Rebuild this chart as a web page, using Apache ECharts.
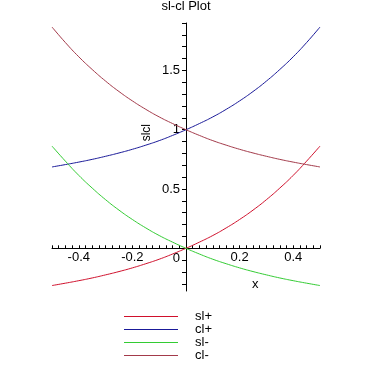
<!DOCTYPE html>
<html><head><meta charset="utf-8">
<script src="https://cdn.jsdelivr.net/npm/echarts@6/dist/echarts.min.js"></script>
<style>html,body{margin:0;padding:0;background:#fff}#c{width:372px;height:372px}</style>
</head><body><div id="c"></div>
<script>
const xs = [-0.5,-0.45,-0.4,-0.35,-0.3,-0.25,-0.2,-0.15,-0.1,-0.05,0,0.05,0.1,0.15,0.2,0.25,0.3,0.35,0.4,0.45,0.5];
const slPlus  = [-0.314,-0.294,-0.273,-0.25,-0.224,-0.196,-0.165,-0.13,-0.092,-0.048,0,0.052,0.108,0.172,0.243,0.322,0.41,0.508,0.615,0.735,0.862];
const clPlus  = [0.686,0.706,0.727,0.75,0.776,0.804,0.835,0.87,0.908,0.952,1.0,1.052,1.108,1.172,1.243,1.322,1.41,1.508,1.615,1.735,1.866];
const slMinus = [0.862,0.735,0.615,0.508,0.41,0.322,0.243,0.172,0.108,0.052,0,-0.048,-0.092,-0.13,-0.165,-0.196,-0.224,-0.25,-0.273,-0.294,-0.314];
const clMinus = [1.866,1.735,1.615,1.508,1.41,1.322,1.243,1.172,1.108,1.052,1.0,0.952,0.908,0.87,0.835,0.804,0.776,0.75,0.727,0.706,0.686];
const names = ['sl+','cl+','sl-','cl-'];
const colors = ['#d0102c','#1a1a99','#33cc33','#a33a4a'];
const xLabelVals = [-0.4,-0.2,0.2,0.4];
const yLabelVals = [0,0.5,1,1.5];
const xTickVals = [];
for (let i=-20;i<=20;i++) xTickVals.push(+(i*0.025).toFixed(3));
const yTickVals = [];
for (let i=-3;i<=19;i++) yTickVals.push(+(i*0.1).toFixed(2));

const font = 'Liberation Sans';
const allData = [slPlus, clPlus, slMinus, clMinus];
const XMIN=-0.5, XMAX=0.5, YMIN=-0.36, YMAX=1.9;
const G = {left:52,right:52,top:23,bottom:81};
const W=372,H=372;
const zeroX = G.left + (0-XMIN)/(XMAX-XMIN)*(W-G.left-G.right);
const zeroY = G.top + (YMAX-0)/(YMAX-YMIN)*(H-G.top-G.bottom);
const lbl = {fontFamily:font,fontSize:13,color:'#000'};
const chart = echarts.init(document.getElementById('c'), null, {renderer:'canvas'});
chart.setOption({
  animation:false,
  backgroundColor:'#fff',
  title:{text:'sl-cl Plot',left:'center',top:0,padding:0,
    textStyle:{fontFamily:font,fontSize:13,fontWeight:'normal',color:'#000'}},
  grid:G,
  legend:{orient:'vertical',left:124,top:310,padding:0,itemGap:0,itemWidth:54,itemHeight:1,
    icon:'rect',data:names,
    textStyle:{fontFamily:font,fontSize:13,color:'#000',lineHeight:12.7,padding:[0,0,0,12]}},
  xAxis:[{type:'value',min:XMIN,max:XMAX,
    name:'x',nameLocation:'end',nameGap:-68,
    nameTextStyle:Object.assign({verticalAlign:'top',padding:[30,0,0,0]},lbl),
    axisLine:{onZero:true,lineStyle:{color:'#000',width:1}},
    axisTick:{show:true,inside:true,length:3,customValues:xTickVals,lineStyle:{color:'#000'}},
    axisLabel:{show:false},
    splitLine:{show:false}},
   {type:'value',min:XMIN,max:XMAX,position:'bottom',offset:-(H-G.bottom-zeroY),
    axisLine:{show:false,onZero:false},axisTick:{show:false},splitLine:{show:false},
    axisLabel:Object.assign({customValues:xLabelVals,margin:3,formatter:v=>String(v)},lbl)}],
  yAxis:[{type:'value',min:YMIN,max:YMAX,
    axisLine:{onZero:true,lineStyle:{color:'#000',width:1}},
    axisTick:{show:true,length:4,customValues:yTickVals,lineStyle:{color:'#000'}},
    axisLabel:{show:false},
    splitLine:{show:false}},
   {type:'value',min:YMIN,max:YMAX,position:'left',offset:-(zeroX-G.left),
    axisLine:{show:false,onZero:false},axisTick:{show:false},splitLine:{show:false},
    axisLabel:Object.assign({customValues:yLabelVals,margin:6,
      formatter:v=>v===0?'{z|0}':String(v),
      rich:{z:Object.assign({padding:[20,0,0,0]},lbl)}},lbl)}],
  graphic:[{type:'text',left:141,top:124,rotation:Math.PI/2,
    style:{text:'slcl',fontFamily:font,fontSize:12,fill:'#000'}}],
  series: names.map((n,i)=>({
    name:n,type:'line',symbol:'none',smooth:true,
    lineStyle:{color:colors[i],width:1},itemStyle:{color:colors[i]},
    data: xs.map((x,j)=>[x,allData[i][j]])
  }))
});
</script></body></html>
